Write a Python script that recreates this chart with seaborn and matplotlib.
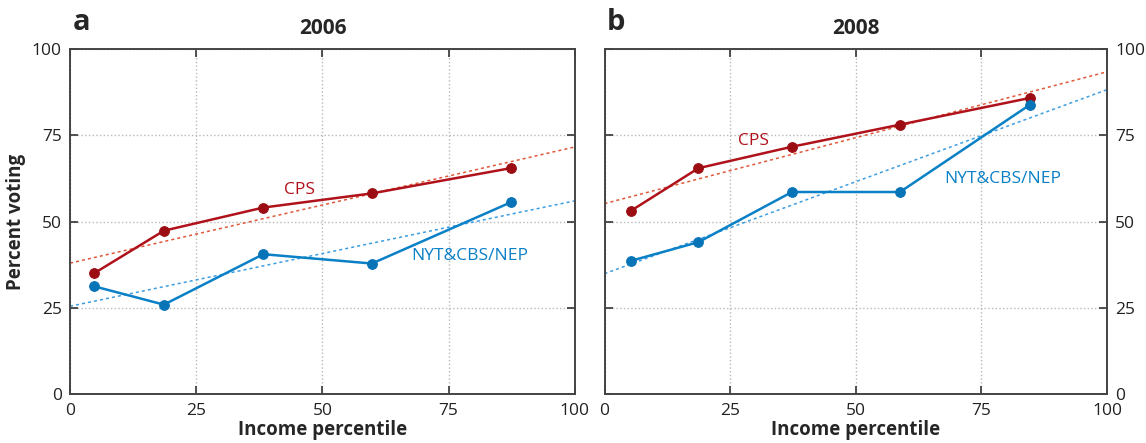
#Import helpful toolboxes etc
import pandas as pd
import matplotlib
matplotlib.use("Agg")
import matplotlib.pyplot as plt
import seaborn as sns

#values
pct_2006 = [4.8, 18.6, 38.3, 59.8, 87.3]
cps_2006 = [35.1, 47.4, 54.1, 58.2, 65.5]
nyt_2006 = [31.3, 26.0, 40.6, 37.9, 55.6]

pct_2008 = [5.3, 18.7, 37.3, 58.8, 84.6]
cps_2008 = [53.2, 65.5, 71.7, 78.1, 85.8]
nyt_2008 = [38.7, 44.1, 58.6, 58.6, 83.8]

years = ['2006', '2008']
letters = ['a', 'b']
sources = ['CPS', 'NYT&CBS/NEP']
ticks = [0, 25, 50, 75, 100]

#colours for each source: line, fit
line_cols = {'CPS': '#b0121b', 'NYT&CBS/NEP': '#0a80c6'}
dot_cols = {'CPS': '#9b0d12', 'NYT&CBS/NEP': '#0874b8'}
fit_cols = {'CPS': '#e0583a', 'NYT&CBS/NEP': '#3c9ee0'}

#where the source names sit, per panel
label_pos = {
    '2006': {'CPS': (45.5, 59.2), 'NYT&CBS/NEP': (79.2, 40.0)},
    '2008': {'CPS': (29.6, 73.5), 'NYT&CBS/NEP': (79.2, 62.5)},
}

#build one long dataframe
rows = []
for yr, pct, cps, nyt in [('2006', pct_2006, cps_2006, nyt_2006),
                          ('2008', pct_2008, cps_2008, nyt_2008)]:
    for k in range(len(pct)):
        rows.append([yr, 'CPS', pct[k], cps[k]])
        rows.append([yr, 'NYT&CBS/NEP', pct[k], nyt[k]])
data = pd.DataFrame(rows, columns=['year', 'source', 'pct', 'vote'])

sns.set_style("white")
plt.rcParams['font.family'] = ['Open Sans', 'DejaVu Sans']

fig = plt.figure(figsize=(11.46, 4.43), dpi=100)
ax_a = fig.add_axes([0.0611, 0.1095, 0.4405, 0.7800])
ax_b = fig.add_axes([0.5275, 0.1095, 0.4385, 0.7800])
axes = [ax_a, ax_b]

for n in range(len(years)):
    ax = axes[n]
    sub = data[data['year'] == years[n]]
    ax.set_xlim(0, 100)
    ax.set_ylim(0, 100)

    for src in sources:
        s = sub[sub['source'] == src]
        #dotted least squares fit across the whole panel
        sns.regplot(x='pct', y='vote', data=s, ax=ax, scatter=False, ci=None,
                    truncate=False, color=fit_cols[src],
                    line_kws={'linestyle': (0, (2, 2)), 'linewidth': 1.1})
        #the measured points
        sns.lineplot(x='pct', y='vote', data=s, ax=ax, color=line_cols[src],
                     linewidth=1.8, marker='o', markersize=7,
                     markerfacecolor=dot_cols[src], markeredgecolor=dot_cols[src])
        lx, ly = label_pos[years[n]][src]
        ax.text(lx, ly, src, color=line_cols[src], fontsize=12.5,
                ha='center', va='center')

    ax.set_xticks(ticks)
    ax.set_yticks(ticks)
    ax.grid(True, linestyle=':', color='#b8b8b8', linewidth=1.0)
    ax.tick_params(direction='in', length=6, width=1.2, color='#333333',
                   top=True, bottom=True, left=True, right=True,
                   labelsize=12.5, labelcolor='#222222', pad=6)
    for sp in ax.spines.values():
        sp.set_color('#444444')
        sp.set_linewidth(1.4)
    ax.set_xlabel('Income percentile', fontsize=13.5, fontweight='bold', labelpad=1)
    ax.set_title(years[n], fontsize=15, fontweight='bold', pad=11)
    ax.text(0.005, 1.035, letters[n], transform=ax.transAxes, fontsize=21,
            fontweight='bold', ha='left', va='bottom')

ax_a.set_ylabel('Percent voting', fontsize=13.5, fontweight='bold')
ax_b.set_ylabel('')
ax_b.tick_params(labelleft=False, labelright=True)

fig.savefig('out.png', dpi=100)
